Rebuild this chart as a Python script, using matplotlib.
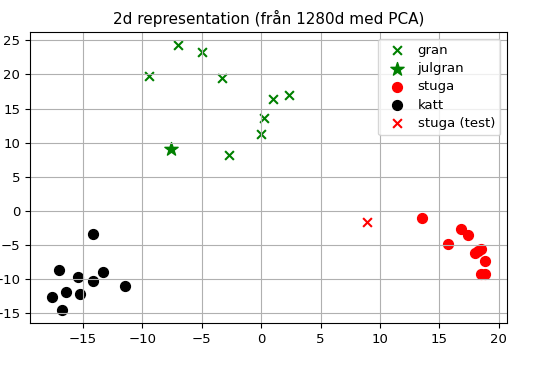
import matplotlib
matplotlib.use('Agg')
import matplotlib.pyplot as plt
import numpy as np

# 2d PCA coordinates
gran_x = [-6.97, -5.0, -9.4, -3.3, 1.0, 0.28, -0.03, -2.7, 2.35]
gran_y = [24.3, 23.3, 19.85, 19.5, 16.4, 13.6, 11.3, 8.2, 17.06]

julgran_x = [-7.6]
julgran_y = [9.07]

stuga_x = [13.5, 15.7, 16.8, 17.4, 17.96, 18.2, 18.5, 18.85, 18.5, 18.8]
stuga_y = [-1.1, -4.8, -2.7, -3.5, -6.2, -5.8, -5.6, -7.3, -9.2, -9.3]

katt_x = [-14.1, -16.97, -13.3, -15.4, -14.1, -11.4, -16.4, -15.2, -17.6, -16.7]
katt_y = [-3.4, -8.6, -9.0, -9.7, -10.25, -11.0, -11.9, -12.1, -12.6, -14.5]

test_x = [8.9]
test_y = [-1.6]

fig = plt.figure(figsize=(5.37, 3.71), dpi=100)
ax = fig.add_axes([0.056, 0.129, 0.888, 0.785])

ax.scatter(gran_x, gran_y, marker='x', color='green', s=40, label='gran')
ax.scatter(julgran_x, julgran_y, marker='*', color='green', s=100, label='julgran')
ax.scatter(stuga_x, stuga_y, marker='o', color='red', s=50, label='stuga')
ax.scatter(katt_x, katt_y, marker='o', color='black', s=50, label='katt')
ax.scatter(test_x, test_y, marker='x', color='red', s=40, label='stuga (test)')

ax.set_title('2d representation (från 1280d med PCA)', fontsize=11)
ax.grid(True)
ax.tick_params(labelsize=9.5)
ax.legend(loc='upper right', fontsize=9.5, labelspacing=0.4, handletextpad=0.6)

plt.savefig('out.png', dpi=100)
